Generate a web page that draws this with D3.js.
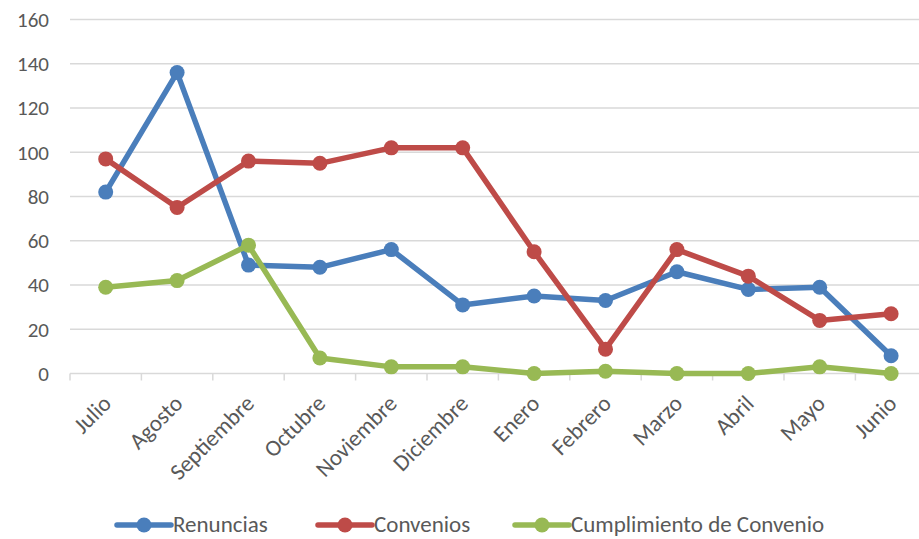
<!DOCTYPE html>
<html>
<head>
<meta charset="utf-8">
<script src="https://cdn.jsdelivr.net/npm/d3@7"></script>
<style>
  body { margin: 0; background: #fff; }
  svg { display: block; font-family: Carlito, Calibri, Lato, "Liberation Sans", sans-serif; }
</style>
</head>
<body>
<svg id="chart"></svg>
<script>
const months = ["Julio", "Agosto", "Septiembre", "Octubre", "Noviembre", "Diciembre", "Enero", "Febrero", "Marzo", "Abril", "Mayo", "Junio"];
const renuncias = [82, 136, 49, 48, 56, 31, 35, 33, 46, 38, 39, 8];
const convenios = [97, 75, 96, 95, 102, 102, 55, 11, 56, 44, 24, 27];
const cumplimiento = [39, 42, 58, 7, 3, 3, 0, 1, 0, 0, 3, 0];
const seriesNames = ["Renuncias", "Convenios", "Cumplimiento de Convenio"];
const yTicks = [0, 20, 40, 60, 80, 100, 120, 140, 160];

const width = 919;
const height = 539;
const colors = ["#4a7ebb", "#be4b48", "#98b954"];

const svg = d3.select("#chart")
  .attr("width", width)
  .attr("height", height);

const xScale = d3.scaleBand()
  .domain(months)
  .range([70, 926.8]);

const yScale = d3.scaleLinear()
  .domain([0, 160])
  .range([373.5, 19.5]);

// gridlines
svg.append("g")
  .selectAll("line")
  .data(yTicks.filter(d => d > 0))
  .enter().append("line")
  .attr("x1", 70)
  .attr("x2", width)
  .attr("y1", d => yScale(d))
  .attr("y2", d => yScale(d))
  .attr("stroke", "#d9d9d9")
  .attr("stroke-width", 1.5);

// y labels
svg.append("g")
  .selectAll("text")
  .data(yTicks)
  .enter().append("text")
  .attr("x", 49)
  .attr("y", d => yScale(d))
  .attr("dy", "0.35em")
  .attr("text-anchor", "end")
  .attr("fill", "#595959")
  .style("font-size", "21px")
  .text(d => d);

// x axis line + ticks at category boundaries
const xAxis = svg.append("g");
xAxis.append("line")
  .attr("x1", 70)
  .attr("x2", width)
  .attr("y1", yScale(0))
  .attr("y2", yScale(0))
  .attr("stroke", "#d9d9d9")
  .attr("stroke-width", 1.5);

xAxis.selectAll(".tick")
  .data(months)
  .enter().append("line")
  .attr("class", "tick")
  .attr("x1", d => xScale(d))
  .attr("x2", d => xScale(d))
  .attr("y1", yScale(0))
  .attr("y2", yScale(0) + 7)
  .attr("stroke", "#d9d9d9")
  .attr("stroke-width", 1.5);

xAxis.selectAll(".lbl")
  .data(months)
  .enter().append("text")
  .attr("class", "lbl")
  .attr("text-anchor", "end")
  .attr("fill", "#595959")
  .style("font-size", "23px")
  .attr("transform", d => `translate(${xScale(d) + xScale.bandwidth() / 2 + 7}, 405) rotate(-45)`)
  .text(d => d);

// series
const allSeries = [renuncias, convenios, cumplimiento];
const line = d3.line()
  .x((d, i) => xScale(months[i]) + xScale.bandwidth() / 2)
  .y(d => yScale(d));

allSeries.forEach((values, s) => {
  const g = svg.append("g");
  g.append("path")
    .datum(values)
    .attr("d", line)
    .attr("fill", "none")
    .attr("stroke", colors[s])
    .attr("stroke-width", 5.5)
    .attr("stroke-linejoin", "round")
    .attr("stroke-linecap", "round");
  g.selectAll("circle")
    .data(values)
    .enter().append("circle")
    .attr("cx", (d, i) => xScale(months[i]) + xScale.bandwidth() / 2)
    .attr("cy", d => yScale(d))
    .attr("r", 7.5)
    .attr("fill", colors[s]);
});

// legend
const legendX = [117, 318, 515];
const legendY = 525;
const legend = svg.append("g")
  .selectAll("g")
  .data(seriesNames)
  .enter().append("g")
  .attr("transform", (d, i) => `translate(${legendX[i]}, ${legendY})`);

legend.append("line")
  .attr("x1", 0)
  .attr("x2", 54)
  .attr("stroke", (d, i) => colors[i])
  .attr("stroke-width", 5.5)
  .attr("stroke-linecap", "round");

legend.append("circle")
  .attr("cx", 27)
  .attr("r", 7.5)
  .attr("fill", (d, i) => colors[i]);

legend.append("text")
  .attr("x", 56)
  .attr("dy", "0.32em")
  .attr("fill", "#595959")
  .style("font-size", "23px")
  .text(d => d);
</script>
</body>
</html>
